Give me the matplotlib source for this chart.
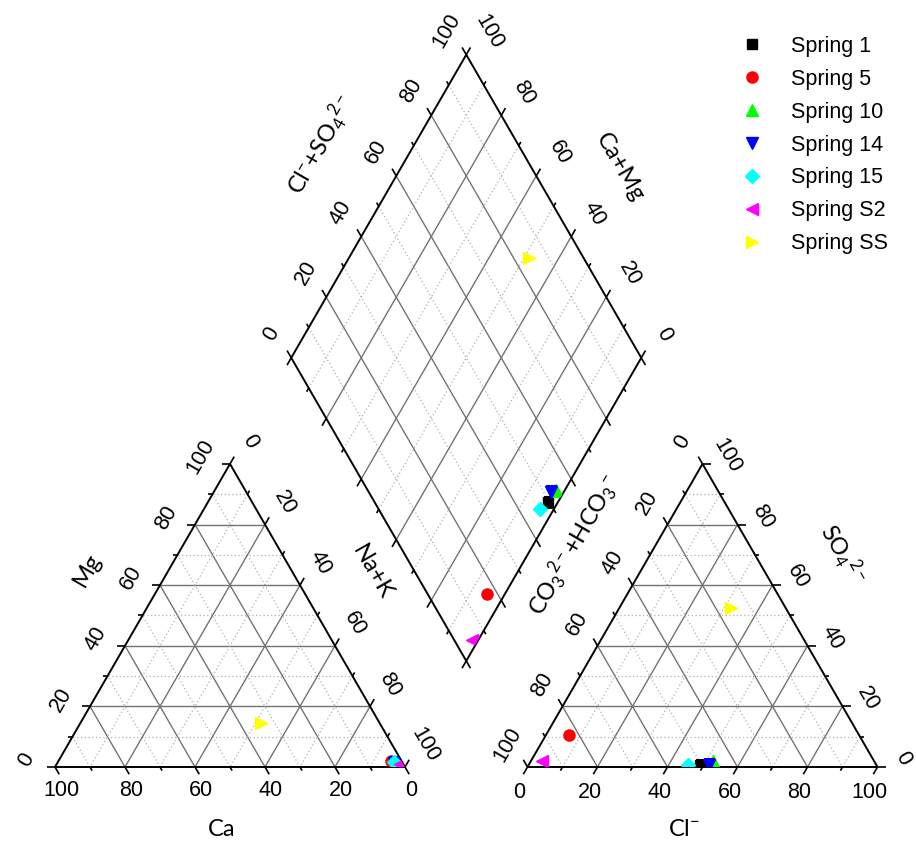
import numpy as np
import matplotlib
matplotlib.use("Agg")
import matplotlib.pyplot as plt
from matplotlib.patches import Polygon

plt.rcParams['font.family'] = ['Liberation Sans', 'DejaVu Sans']
plt.rcParams['mathtext.fontset'] = 'custom'
plt.rcParams['mathtext.rm'] = 'Lato'
plt.rcParams['mathtext.it'] = 'Lato:italic'

# --- data (percent of meq) ---
springs = ["Spring 1", "Spring 5", "Spring 10", "Spring 14", "Spring 15", "Spring S2", "Spring SS"]
colors = ["#000000", "#ff0000", "#00ff00", "#0000ff", "#00ffff", "#ff00ff", "#ffff00"]
markers = ["s", "o", "^", "v", "D", "<", ">"]
msizes = [7, 8, 9, 9, 7, 9, 9]

ca = [2.0, 3.0, 1.5, 2.5, 2.5, 1.0, 34.0]
mg = [1.0, 2.0, 1.0, 1.3, 1.5, 1.0, 14.5]
nak = [97.0, 95.0, 97.5, 96.2, 96.0, 98.0, 51.5]

hco3 = [50.5, 83.0, 46.0, 48.0, 54.0, 95.0, 15.5]
cl = [49.0, 6.5, 52.0, 51.5, 45.5, 3.0, 32.0]
so4 = [0.5, 10.5, 2.0, 0.5, 0.5, 2.0, 52.5]

H = np.sqrt(3) / 2
GAP = 35.0
X0R = 100 + GAP  # x of right triangle's left corner

# vertices: bottom-left, bottom-right, top
LT = np.array([[0, 0], [100, 0], [50, 100 * H]])
RT = np.array([[X0R, 0], [X0R + 100, 0], [X0R + 50, 100 * H]])
P = np.array([100 + GAP / 2, GAP * H])   # diamond bottom vertex
U1 = np.array([-0.5, H])
U2 = np.array([0.5, H])


def tern(V, c):
    c = np.asarray(c, float)
    return (c[0] * V[0] + c[1] * V[1] + c[2] * V[2]) / 100.0


def dia(a, b):
    return P + a * U1 + b * U2


fig = plt.figure(figsize=(9.16, 8.41), dpi=100)
ax = fig.add_axes([0, 0, 1, 1])
S = 3.5  # px per unit
ax.set_xlim(-55 / S, (916 - 55) / S)
ax.set_ylim((767 - 841) / S, 767 / S)
ax.set_aspect('equal')
ax.axis('off')

GRID_MAJ = dict(color='#737373', lw=1.0, zorder=1)
GRID_MIN = dict(color='#b0b0b0', lw=0.9, ls=(0, (1, 2)), zorder=1)
TL = 2.4   # major tick length
TLm = 1.2  # minor tick length
TICKFS = 15.5


def seg(p, q, **kw):
    ax.plot([p[0], q[0]], [p[1], q[1]], solid_capstyle='butt', **kw)


def unit(v):
    return v / np.linalg.norm(v)


def draw_triangle(V, axes_spec):
    # axes_spec: list of (k, j, m, label offset px, rotation)
    for k, j, m, off, rot in axes_spec:
        for t in range(10, 100, 10):
            c1 = np.zeros(3); c1[k] = t; c1[j] = 100 - t
            c2 = np.zeros(3); c2[k] = t; c2[m] = 100 - t
            seg(tern(V, c1), tern(V, c2), **(GRID_MAJ if t % 20 == 0 else GRID_MIN))
        for t in range(0, 101, 10):
            c1 = np.zeros(3); c1[k] = t; c1[j] = 100 - t
            c2 = np.zeros(3); c2[k] = t; c2[m] = 100 - t
            pe, po = tern(V, c1), tern(V, c2)
            if t == 100:
                cc = np.zeros(3); cc[k] = 90; cc[m] = 10
                d = unit(tern(V, np.eye(3)[k] * 90 + np.eye(3)[j] * 10) - tern(V, cc))
            else:
                d = unit(pe - po)
            L = TL if t % 20 == 0 else TLm
            seg(pe, pe + L * d, color='black', lw=1.2, zorder=3)
            if t % 20 == 0:
                ax.text(pe[0] + off[0] / S, pe[1] - off[1] / S, str(t), rotation=rot,
                        ha='center', va='center', fontsize=TICKFS, rotation_mode='anchor')
    ax.add_patch(Polygon(V, closed=True, fill=False, ec='black', lw=1.4, zorder=3))
    return Polygon(V, closed=True, transform=ax.transData)


# left triangle: bl=Ca, br=Na+K, top=Mg
clipL = draw_triangle(LT, [
    (0, 1, 2, (6, 23), 0),      # Ca on bottom
    (2, 0, 1, (-29, -7), 60),   # Mg on left
    (1, 2, 0, (20, -22), -60),  # Na+K on right
])
# right triangle: bl=HCO3, br=Cl, top=SO4
clipR = draw_triangle(RT, [
    (1, 0, 2, (-8, 25), 0),     # Cl on bottom
    (0, 2, 1, (-20, -22), 60),  # HCO3 on left
    (2, 1, 0, (25, -8), -60),   # SO4 on right
])

# diamond
for t in range(10, 100, 10):
    st = GRID_MAJ if t % 20 == 0 else GRID_MIN
    seg(dia(t, 0), dia(t, 100), **st)
    seg(dia(0, t), dia(100, t), **st)
for t in range(0, 101, 10):
    L = TL if t % 20 == 0 else TLm
    p = dia(100, t); seg(p, p + L * U1, color='black', lw=1.2, zorder=3)
    p = dia(t, 100); seg(p, p + L * U2, color='black', lw=1.2, zorder=3)
    p = dia(t, 0); seg(p, p - L * U2, color='black', lw=1.2, zorder=3)
    p = dia(0, t); seg(p, p - L * U1, color='black', lw=1.2, zorder=3)
    if t % 20 == 0:
        p = dia(100, t)
        ax.text(p[0] - 20 / S, p[1] + 24 / S, str(t), rotation=60, ha='center', va='center',
                fontsize=TICKFS, rotation_mode='anchor')
        p = dia(t, 100)
        ax.text(p[0] + 23 / S, p[1] + 23 / S, str(t), rotation=-60, ha='center', va='center',
                fontsize=TICKFS, rotation_mode='anchor')
DV = np.array([dia(0, 0), dia(100, 0), dia(100, 100), dia(0, 100)])
ax.add_patch(Polygon(DV, closed=True, fill=False, ec='black', lw=1.4, zorder=3))
clipD = Polygon(DV, closed=True, transform=ax.transData)

# data points
for i, name in enumerate(springs):
    kw = dict(ls='none', marker=markers[i], ms=msizes[i], mfc=colors[i], mec=colors[i], zorder=4)
    pl = tern(LT, [ca[i], nak[i], mg[i]])
    pr = tern(RT, [hco3[i], cl[i], so4[i]])
    pd_ = dia(ca[i] + mg[i], cl[i] + so4[i])
    l1, = ax.plot([pl[0]], [pl[1]], label=name, **kw)
    l1.set_clip_path(clipL)
    l2, = ax.plot([pr[0]], [pr[1]], **kw)
    l2.set_clip_path(clipR)
    l3, = ax.plot([pd_[0]], [pd_[1]], **kw)
    l3.set_clip_path(clipD)


def px(x, y):
    return (x - 55) / S, (767 - y) / S


TFS = 17
tkw = dict(ha='center', va='center', fontsize=TFS, family=['Lato', 'DejaVu Sans'],
           rotation_mode='anchor')
ax.text(*px(87, 570), 'Mg', rotation=60, **tkw)
ax.text(*px(372, 572), 'Na+K', rotation=-60, **tkw)
ax.text(*px(222, 830), 'Ca', **tkw)
ax.text(*px(684, 830), r'Cl$^{-}$', **tkw)
ax.text(*px(574, 545), r'CO$_3$$^{2-}$+HCO$_3$$^{-}$', rotation=60, **tkw)
ax.text(*px(842, 555), r'SO$_4$$^{2-}$', rotation=-60, **tkw)
ax.text(*px(322, 145), r'Cl$^{-}$+SO$_4$$^{2-}$', rotation=60, **tkw)
ax.text(*px(620, 167), 'Ca+Mg', rotation=-60, **tkw)

ax.legend(loc='upper left', bbox_to_anchor=(739 / 916, 1 - 36 / 841), frameon=False,
          fontsize=15.5, handlelength=1.2, handletextpad=1.22, labelspacing=0.55,
          borderpad=0, borderaxespad=0, numpoints=1)

fig.savefig('out.png', dpi=100)
